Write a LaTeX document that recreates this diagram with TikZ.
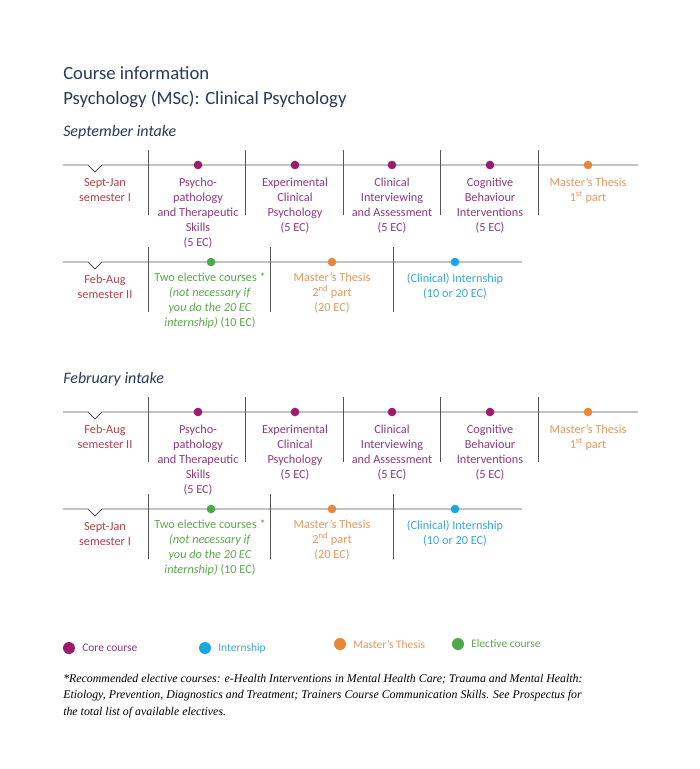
\documentclass[tikz,border=0pt]{standalone}
\usepackage{fontspec}
\setmainfont{Carlito}
\newfontfamily\notefont{Liberation Serif}
\definecolor{core}{HTML}{9B1B6E}
\definecolor{coretxt}{HTML}{8E3A80}
\definecolor{thes}{HTML}{E8873A}
\definecolor{thestxt}{HTML}{E39A62}
\definecolor{elec}{HTML}{4AAA4A}
\definecolor{electxt}{HTML}{5AAA4A}
\definecolor{intern}{HTML}{1AA8E0}
\definecolor{interntxt}{HTML}{3AA8D8}
\definecolor{semtxt}{HTML}{B5404A}
\definecolor{head}{HTML}{2B3A5A}
\definecolor{lin}{HTML}{555555}
\tikzset{
  tl/.style={draw=lin, line width=0.6pt},
  sep/.style={draw=lin, line width=0.6pt},
  dotc/.style={circle, inner sep=0pt, minimum size=6.5pt},
  lbl/.style={anchor=north, align=center, inner sep=0pt, font=\fontsize{9.2}{11.2}\selectfont},
  legtxt/.style={anchor=west, inner sep=0pt, font=\fontsize{8.6}{10}\selectfont},
}
\newcommand\IntakeBlock[7]{%
\begin{scope}[yshift=-#1*0.75pt]
\node[anchor=base west, inner sep=0pt, text=head, font=\fontsize{12}{14}\selectfont\itshape] (in#7) at (63,136) {#2};
\draw[tl] (63,165) -- (88,165) -- (95,172) -- (102,165) -- (638,165);
\draw[sep] (148,150) -- (148,215);
\draw[sep] (245,150) -- (245,215);
\draw[sep] (343,150) -- (343,215);
\draw[sep] (440,150) -- (440,215);
\draw[sep] (538,150) -- (538,215);
\node[lbl, text=semtxt] (sa#7) at (105,178) {#3\\#4};
\node[dotc, fill=core] (da#7) at (198,165) {};
\node[dotc, fill=core] (db#7) at (295,165) {};
\node[dotc, fill=core] (dc#7) at (392,165) {};
\node[dotc, fill=core] (dd#7) at (490,165) {};
\node[dotc, fill=thes] (de#7) at (588,165) {};
\node[lbl, text=coretxt] (ca#7) at (198,178) {Psycho-\\pathology\\and Therapeutic\\Skills\\(5 EC)};
\node[lbl, text=coretxt] (cb#7) at (295,178) {Experimental\\Clinical\\Psychology\\(5 EC)};
\node[lbl, text=coretxt] (cc#7) at (392,178) {Clinical\\Interviewing\\and Assessment\\(5 EC)};
\node[lbl, text=coretxt] (cd#7) at (490,178) {Cognitive\\Behaviour\\Interventions\\(5 EC)};
\node[lbl, text=thestxt] (ce#7) at (588,178) {Master's Thesis\\1\textsuperscript{st} part};
\draw[tl] (63,262) -- (88,262) -- (95,269) -- (102,262) -- (522,262);
\draw[sep] (148,247) -- (148,312);
\draw[sep] (270,247) -- (270,312);
\draw[sep] (393,247) -- (393,312);
\node[lbl, text=semtxt] (sb#7) at (105,275) {#5\\#6};
\node[dotc, fill=elec] (df#7) at (211,262) {};
\node[dotc, fill=thes] (dg#7) at (332,262) {};
\node[dotc, fill=intern] (dh#7) at (455,262) {};
\node[lbl, text=electxt] (e#7) at (210,273) {Two elective courses *\\\textit{(not necessary if}\\\textit{you do the 20 EC}\\\textit{internship)} (10 EC)};
\node[lbl, text=thestxt] (m#7) at (332,273) {Master's Thesis\\2\textsuperscript{nd} part\\(20 EC)};
\node[lbl, text=interntxt] (i#7) at (455,273) {(Clinical) Internship\\(10 or 20 EC)};
\end{scope}}
\begin{document}
\begin{tikzpicture}[x=0.75pt,y=-0.75pt]
\useasboundingbox[fill=white] (0,0) rectangle (700,769);
\node[anchor=base west, inner sep=0pt, text=head, font=\fontsize{14}{16}\selectfont] (t1) at (63,79) {Course information};
\node[anchor=base west, inner sep=0pt, text=head, font=\fontsize{14}{16}\selectfont] (t2) at (63,104) {Psychology (MSc): Clinical Psychology};
\IntakeBlock{0}{September intake}{Sept-Jan}{semester I}{Feb-Aug}{semester II}{A}
\IntakeBlock{247}{February intake}{Feb-Aug}{semester II}{Sept-Jan}{semester I}{B}
\node[dotc, fill=core, minimum size=9pt] (l1) at (69,648) {};
\node[legtxt, text=coretxt] (lt1) at (82,648) {Core course};
\node[dotc, fill=intern, minimum size=9pt] (l2) at (205,648) {};
\node[legtxt, text=interntxt] (lt2) at (218,648) {Internship};
\node[dotc, fill=thes, minimum size=9pt] (l3) at (340,644) {};
\node[legtxt, text=thestxt] (lt3) at (353,644) {Master's Thesis};
\node[dotc, fill=elec, minimum size=9pt] (l4) at (458,644) {};
\node[legtxt, text=electxt] (lt4) at (471,644) {Elective course};
\node[anchor=north west, align=left, inner sep=0pt, font=\notefont\itshape\fontsize{8.9}{12.2}\selectfont] (fn) at (63,674) {*Recommended elective courses: e-Health Interventions in Mental Health Care; Trauma and Mental Health:\\Etiology, Prevention, Diagnostics and Treatment; Trainers Course Communication Skills. See Prospectus for\\the total list of available electives.};
\end{tikzpicture}
\end{document}
